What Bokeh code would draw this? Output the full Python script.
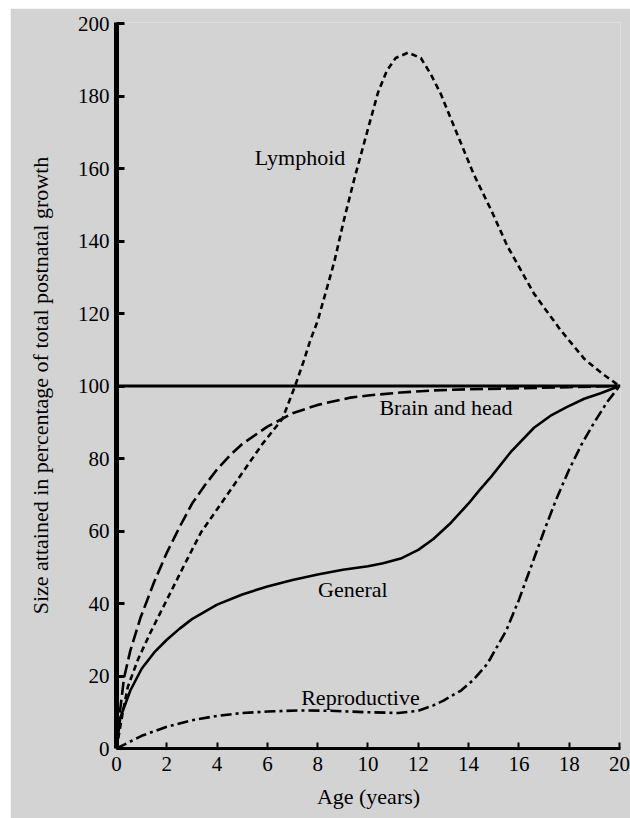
from bokeh.plotting import figure
from bokeh.models import Range1d, FixedTicker, Label, Span
from bokeh.embed import file_html
from bokeh.resources import INLINE

# ---- data ----
age_ticks = [0, 2, 4, 6, 8, 10, 12, 14, 16, 18, 20]
size_ticks = [0, 20, 40, 60, 80, 100, 120, 140, 160, 180, 200]

lymph_age = [0, 0.25, 0.45, 0.85, 1.35, 2.0, 2.65, 3.35, 4.25, 5.0, 5.8, 6.6, 7.1, 7.45, 7.7, 8.0, 8.65,
             9.05, 9.45, 10.0, 10.4, 10.75, 11.1, 11.6, 12.1, 12.5, 12.9, 13.4, 14.2, 14.9, 15.55, 16.6, 17.65,
             18.6, 19.3, 20.0]
lymph_size = [0, 10, 17, 24.5, 32, 41, 50, 59.5, 68.5, 76, 84, 91, 100, 107, 112.5, 118, 134,
              146, 157, 171, 181, 187, 190.5, 192, 190.5, 186, 180.5, 172, 158.5, 148.5, 138.5, 125.5, 115.5,
              107.5, 103.5, 100]

brain_age = [0, 0.1, 0.3, 0.55, 0.95, 1.5, 2.0, 2.5, 3.0, 3.5, 4.0, 4.5, 5.0, 6.0, 6.6, 7.0, 8.0, 9.3, 10.0,
             11.3, 12.6, 14.0, 16.0, 18.0, 20.0]
brain_size = [0, 8, 19.5, 27, 36, 46, 54, 61, 67.5, 72.5, 77, 80.8, 84, 88.8, 91, 92.5, 94.8, 96.8, 97.4,
              98.2, 98.8, 99.1, 99.4, 99.7, 100]

general_age = [0, 0.15, 0.55, 1.0, 1.5, 2.0, 2.5, 3.0, 4.0, 5.0, 6.0, 7.0, 8.0, 9.0, 10.0, 10.6, 11.3, 12.0,
               12.6, 13.3, 13.6, 14.0, 14.4, 14.9, 15.7, 16.6, 17.3, 17.9, 18.6, 19.25, 20.0]
general_size = [0, 8.5, 16, 22, 26.5, 30, 33, 35.7, 39.7, 42.5, 44.7, 46.5, 48, 49.3, 50.3, 51.1, 52.4, 54.8,
                57.8, 62.3, 64.6, 67.6, 71, 75, 82, 88.5, 92, 94.2, 96.5, 98, 100]

repro_age = [0, 1.0, 2.0, 3.0, 4.0, 5.0, 6.0, 7.3, 8.5, 10.0, 11.2, 12.0, 12.6, 13.0, 13.7, 14.2, 14.75, 15.5,
             16.0, 16.5, 17.0, 17.5, 18.0, 18.5, 19.0, 19.5, 20.0]
repro_size = [0, 3.5, 6, 7.8, 9, 9.8, 10.2, 10.5, 10.4, 10, 9.8, 10.4, 11.9, 13.2, 16, 19, 23.4, 32.6,
              41, 50.5, 60, 69, 77, 84, 90, 95.5, 100]

full_growth = 100

curve_names = ["Lymphoid", "Brain and head", "General", "Reproductive"]
label_age = [7.3, 13.1, 9.4, 9.7]
label_size = [163, 94, 44, 14]

SERIF = "Times New Roman"
BG = "#d3d3d3"

p = figure(width=620, height=810, output_backend="svg", toolbar_location=None,
           x_range=Range1d(0, 20.04), y_range=Range1d(0, 200.3),
           min_border_left=106, min_border_right=10, min_border_top=14, min_border_bottom=70,
           margin=(8, 0, 0, 10))
p.background_fill_color = BG
p.border_fill_color = BG
p.outline_line_color = None
p.grid.visible = False

# axes
for ax in (p.xaxis[0], p.yaxis[0]):
    ax.axis_line_color = "black"
    ax.major_tick_line_color = "black"
    ax.minor_tick_line_color = None
    ax.major_tick_out = 0
    ax.major_label_text_font = SERIF
    ax.major_label_text_font_size = "21px"
    ax.major_label_text_color = "black"
    ax.axis_label_text_font = SERIF
    ax.axis_label_text_font_style = "normal"
    ax.axis_label_text_color = "black"

p.xaxis.ticker = FixedTicker(ticks=age_ticks)
p.yaxis.ticker = FixedTicker(ticks=size_ticks)
p.xaxis.axis_line_width = 3
p.yaxis.axis_line_width = 5
p.xaxis.major_tick_in = 6
p.yaxis.major_tick_in = 8
p.xaxis.major_tick_line_width = 2
p.yaxis.major_tick_line_width = 3
p.xaxis.major_label_standoff = 8
p.yaxis.major_label_standoff = 7
p.xaxis.axis_label = "Age (years)"
p.yaxis.axis_label = "Size attained in percentage of total postnatal growth"
p.xaxis.axis_label_text_font_size = "22px"
p.yaxis.axis_label_text_font_size = "22px"
p.xaxis.axis_label_standoff = 10
p.yaxis.axis_label_standoff = 22

# 100% reference line
p.add_layout(Span(location=full_growth, dimension="width", line_color="black", line_width=3))

# curves
p.line(lymph_age, lymph_size, line_color="black", line_width=2.6, line_dash="6 4")
p.line(brain_age, brain_size, line_color="black", line_width=2.6, line_dash="13 5")
p.line(general_age, general_size, line_color="black", line_width=2.6)
p.line(repro_age, repro_size, line_color="black", line_width=2.6, line_dash="11 4 3 4")

for name, lx, ly in zip(curve_names, label_age, label_size):
    p.add_layout(Label(x=lx, y=ly, text=name, text_font=SERIF, text_font_size="22px",
                       text_color="black", text_align="center", text_baseline="middle"))

open("out.html", "w").write(file_html(p, INLINE))
